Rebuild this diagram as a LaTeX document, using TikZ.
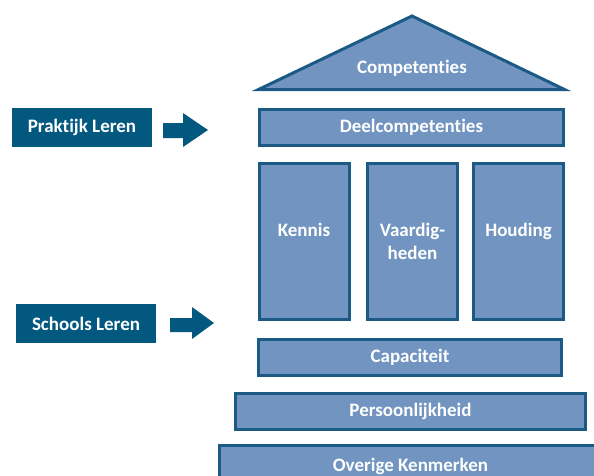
\documentclass[tikz,border=0pt]{standalone}
\usepackage{fontspec}
\setmainfont{Carlito}[Ligatures=NoCommon]
\definecolor{boxfill}{HTML}{7194C1}
\definecolor{boxline}{HTML}{1B5A84}
\definecolor{tagblue}{HTML}{03587F}
\tikzset{
    block/.style={draw=boxline, fill=boxfill, line width=3pt, text=white,
        font=\fontsize{19}{23}\selectfont\bfseries, align=center},
    pillar/.style={block, minimum width=90, minimum height=156},
    tag/.style={fill=tagblue, text=white, minimum width=140, minimum height=39,
        font=\fontsize{19}{23}\selectfont\bfseries}
}
\begin{document}
\begin{tikzpicture}[x=1pt, y=-1pt]
    \clip (0,0) rectangle (594,475);

    % Roof
    \draw[boxline, fill=boxfill, line width=3pt] (258.5,89.5) -- (412,16) -- (564.5,89.5) -- cycle;
    \node[text=white, font=\fontsize{19}{23}\selectfont\bfseries] (roof) at (412,68.5) {Competenties};

    % Layers
    \node[block, minimum width=304, minimum height=36] (deel) at (411.5,127.5) {Deelcompetenties};

    \node[pillar] (kennis) at (304,241.5) {Kennis\\~};
    \node[pillar] (vaard) at (412.5,241.5) {Vaardig-\\heden};
    \node[pillar] (houding) at (518.5,241.5) {Houding\\~};

    \node[block, minimum width=303, minimum height=36] (cap) at (410,357.5) {Capaciteit};
    \node[block, minimum width=350, minimum height=36] (pers) at (410.5,411.5) {Persoonlijkheid};
    \node[block, minimum width=382, minimum height=41] (overig) at (410.5,466) {Overige Kenmerken};

    % Ways of learning
    \node[tag] (praktijk) at (82,127.5) {Praktijk Leren};
    \node[tag] (schools) at (86,323.5) {Schools Leren};

    \fill[tagblue] (163,123) -- (183,123) -- (183,113) -- (208,130) -- (183,147) -- (183,138) -- (163,138) -- cycle;
    \fill[tagblue] (170,318) -- (192,318) -- (192,307) -- (214,323) -- (192,339) -- (192,332) -- (170,332) -- cycle;
\end{tikzpicture}
\end{document}
